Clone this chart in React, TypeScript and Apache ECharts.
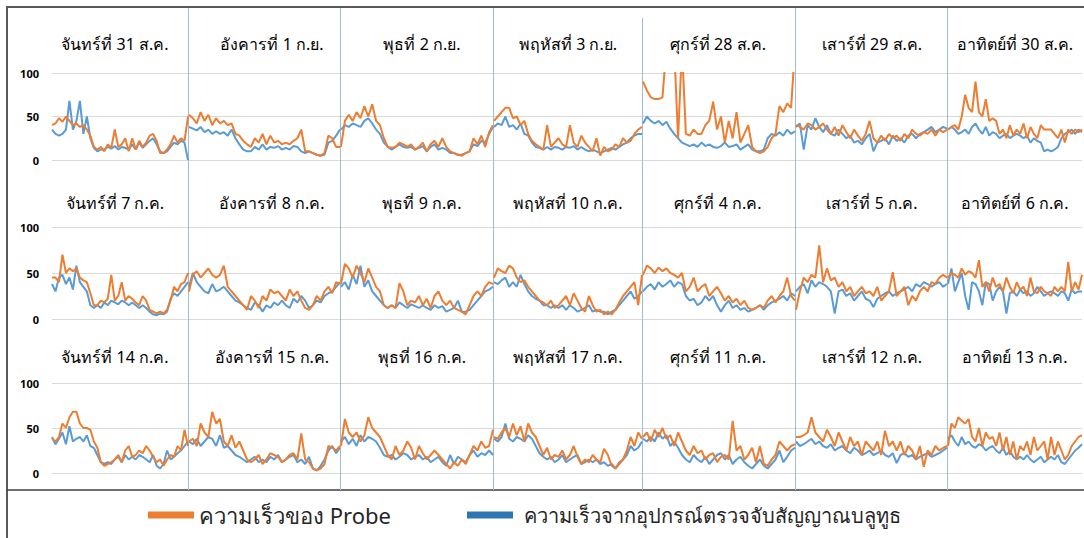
import React, { useEffect, useRef } from "react";
import * as echarts from "echarts";

const PROBE = "ความเร็วของ Probe";
const BT = "ความเร็วจากอุปกรณ์ตรวจจับสัญญาณบลูทูธ";

const titles = [
  "จันทร์ที่ 31 ส.ค.", "อังคารที่ 1 ก.ย.", "พุธที่ 2 ก.ย.", "พฤหัสที่ 3 ก.ย.", "ศุกร์ที่ 28 ส.ค.", "เสาร์ที่ 29 ส.ค.", "อาทิตย์ที่ 30 ส.ค.",
  "จันทร์ที่ 7 ก.ค.", "อังคารที่ 8 ก.ค.", "พุธที่ 9 ก.ค.", "พฤหัสที่ 10 ก.ค.", "ศุกร์ที่ 4 ก.ค.", "เสาร์ที่ 5 ก.ค.", "อาทิตย์ที่ 6 ก.ค.",
  "จันทร์ที่ 14 ก.ค.", "อังคารที่ 15 ก.ค.", "พุธที่ 16 ก.ค.", "พฤหัสที่ 17 ก.ค.", "ศุกร์ที่ 11 ก.ค.", "เสาร์ที่ 12 ก.ค.", "อาทิตย์ 13 ก.ค.",
];

const yTicks = [0, 50, 100];

// Row 1
const probeR1C1 = [40,42,48,44,50,45,40,42,38,40, 35,28,15,12,15,10,18,14,35,15, 18,25,10,25,12,22,15,20,28,30, 22,8,8,12,18,28,20,25,22,50];
const btR1C1 = [35,30,28,30,35,68,35,45,68,30, 50,25,14,10,12,12,15,13,16,12, 15,14,12,18,12,20,14,18,22,25, 18,10,8,10,15,20,18,22,20,0];
const probeR1C2 = [52,48,42,55,45,52,40,48,42,45, 40,42,30,28,22,18,15,25,20,30, 18,28,20,22,18,20,18,22,25,35, 10,10,8,6,5,8,28,25,15,15];
const btR1C2 = [38,36,34,38,32,35,30,33,30,32, 28,35,25,18,12,10,10,15,12,18, 12,15,14,16,12,14,12,16,15,10, 8,10,8,6,5,6,20,22,28,35];
const probeR1C3 = [15,45,52,45,55,48,62,50,64,45, 40,25,15,14,15,20,18,15,18,12, 15,20,10,18,22,15,25,15,10,8, 6,5,8,10,25,18,28,15,32,40];
const btR1C3 = [35,40,38,42,40,38,45,48,42,35, 30,20,15,12,15,18,15,14,15,12, 14,16,10,15,18,12,14,12,8,8, 6,6,8,10,18,16,22,20,30,38];
const probeR1C4 = [45,50,55,60,60,48,50,40,45,30, 22,18,15,12,40,15,20,25,18,15, 40,20,15,28,20,15,10,25,5,15, 10,12,18,15,25,20,22,30,35,38];
const btR1C4 = [38,42,40,50,38,40,35,42,30,28, 20,15,14,12,15,12,15,14,12,15, 14,16,12,15,12,10,12,10,8,10, 12,14,12,15,18,20,25,28,30,30];
const probeR1C5 = [90,80,72,70,70,72,130,130,130,25, 130,30,28,35,30,30,40,45,67,35, 50,20,45,25,55,20,30,40,15,10, 8,10,15,25,30,62,55,65,60,130];
const btR1C5 = [42,50,45,42,45,40,44,36,30,25, 20,18,16,18,15,20,16,18,15,14, 16,20,15,16,18,12,15,18,12,10, 10,12,25,30,28,32,28,35,30,33];
const probeR1C6 = [40,38,35,42,40,35,38,42,35,30, 38,28,40,32,25,35,28,22,30,45, 25,20,28,22,30,25,28,22,30,25, 35,30,28,32,30,35,28,35,32,35];
const btR1C6 = [38,42,12,40,35,48,38,32,40,30, 28,35,30,25,28,20,22,18,25,30, 10,20,22,25,18,28,22,25,20,28, 30,25,30,32,35,38,32,35,38,36];
const probeR1C7 = [35,38,40,35,50,75,60,55,90,55, 50,70,45,48,45,30,35,25,40,28, 35,30,42,25,38,30,25,40,35,35, 35,30,25,35,20,35,30,35,32,35];
const btR1C7 = [35,38,35,30,32,35,30,38,42,35, 30,38,28,32,30,25,28,30,25,28, 30,28,25,28,20,25,22,20,10,12, 10,12,15,25,30,32,35,30,35,32];

// Row 2
const probeR2C1 = [45,45,40,70,50,55,52,55,45,42, 40,28,15,15,20,18,22,48,20,25, 40,20,25,22,18,15,25,20,10,8, 6,8,6,10,20,35,30,38,40,50];
const btR2C1 = [38,30,45,48,38,45,32,58,40,35, 30,15,12,15,12,18,15,20,18,16, 20,18,15,18,15,12,15,12,8,5, 4,6,5,8,22,28,25,30,35,40];
const probeR2C2 = [30,48,52,45,50,55,48,45,48,58, 35,30,25,20,15,10,25,20,12,25, 20,32,28,30,25,20,32,25,30,20, 12,10,15,25,20,30,35,28,40,38];
const btR2C2 = [35,50,40,35,30,28,38,30,32,35, 30,25,20,18,15,12,10,18,15,8, 15,12,18,15,20,15,12,22,18,25, 20,12,15,20,18,25,28,30,35,40];
const probeR2C3 = [38,60,55,45,58,50,40,55,45,35, 30,15,12,15,12,39,30,15,20,18, 25,15,22,12,25,30,20,15,20,12, 10,8,5,15,25,30,25,35,40,38];
const btR2C3 = [35,40,32,48,38,58,35,42,30,25, 20,15,12,15,12,18,15,12,16,14, 12,15,12,10,15,12,14,8,10,12, 20,8,8,10,15,20,25,30,32,35];
const probeR2C4 = [45,55,52,50,58,55,45,40,42,35, 30,25,20,18,15,20,12,15,20,25, 15,28,20,12,8,25,15,8,10,5, 8,5,10,18,25,30,35,40,15,48];
const btR2C4 = [40,38,42,45,35,40,35,48,38,30, 25,22,20,15,15,12,15,12,15,10, 15,12,8,10,12,15,8,10,8,8, 5,8,10,15,20,25,30,22,25,30];
const probeR2C5 = [48,58,55,50,56,52,55,50,48,45, 50,30,35,45,30,35,38,25,30,35, 28,20,25,18,22,15,20,12,10,12, 15,12,20,25,18,25,30,45,25,20];
const btR2C5 = [30,35,38,32,40,35,38,42,35,40, 38,25,20,22,15,18,25,20,25,15, 8,15,20,12,15,10,12,8,10,12, 15,10,15,18,20,22,25,20,28,25];
const probeR2C6 = [10,30,45,40,48,45,80,40,55,42, 45,35,40,30,35,25,30,35,28,30, 25,35,20,25,30,51,25,30,35,15, 25,20,30,35,30,40,38,45,48,45];
const btR2C6 = [30,35,38,28,42,35,40,38,35,30, 6,30,32,25,28,20,25,30,22,20, 13,22,25,28,30,25,28,30,32,35, 30,38,35,40,38,35,38,40,35,38];
const probeR2C7 = [45,50,48,45,55,48,52,50,45,64, 35,40,30,45,35,38,30,45,35,28, 40,32,35,25,45,30,28,35,30,28, 25,35,30,35,30,62,30,40,32,48];
const btR2C7 = [38,55,30,40,50,25,10,40,38,30, 15,40,38,20,30,35,30,6,28,30, 25,32,28,30,25,28,35,30,25,28, 30,28,25,30,28,20,32,28,30,30];

// Row 3
const probeR3C1 = [38,35,40,55,50,62,68,68,55,50, 50,48,35,28,12,8,10,12,15,20, 12,25,30,18,20,25,22,30,25,18, 12,15,8,15,20,18,30,25,48,30];
const btR3C1 = [40,32,38,45,32,52,35,38,40,35, 42,30,28,20,12,10,12,10,15,18, 12,20,15,18,15,20,18,15,12,20, 8,5,10,25,15,18,22,25,30,35];
const probeR3C2 = [35,38,30,55,45,40,68,55,60,35, 30,42,28,35,25,15,12,15,20,10, 15,22,20,18,12,15,20,22,15,44, 15,12,5,3,5,10,30,28,25,30];
const btR3C2 = [35,32,38,30,35,40,38,30,42,28, 30,25,20,18,15,12,15,18,12,15, 12,18,15,20,12,15,18,20,12,15, 10,18,5,3,8,15,25,30,22,28];
const probeR3C3 = [30,60,45,40,45,35,42,62,50,45, 40,30,20,15,30,20,25,35,28,15, 30,22,15,20,25,20,15,10,5,12, 8,15,10,20,30,25,35,28,30,48];
const btR3C3 = [35,40,32,38,30,42,35,40,38,35, 28,20,18,20,15,18,22,20,15,18, 20,15,18,12,15,18,12,8,20,10, 18,15,12,20,25,18,22,20,25,20];
const probeR3C4 = [40,38,45,50,40,55,42,52,35,55, 45,40,30,20,28,15,20,18,25,15, 20,30,18,10,15,12,20,15,12,27, 20,8,5,10,15,25,40,30,45,38];
const btR3C4 = [38,35,40,55,38,35,40,38,35,42, 38,30,22,18,15,18,12,15,20,12, 15,18,20,10,12,15,12,15,10,12, 8,10,5,12,15,20,30,25,28,35];
const probeR3C5 = [40,45,35,48,40,50,38,42,30,45, 35,25,20,30,22,25,15,20,22,12, 18,20,15,58,25,30,15,20,28,12, 30,10,8,15,20,35,30,25,30,32];
const btR3C5 = [38,35,40,35,45,38,42,30,35,28, 20,15,12,20,15,12,18,10,15,20, 22,15,20,10,15,18,12,8,5,10, 15,8,5,10,15,25,12,18,25,28];
const probeR3C6 = [40,40,42,45,62,45,40,35,48,40, 30,45,35,25,40,30,35,20,35,30, 25,35,20,47,30,35,25,35,20,30, 25,15,30,7,25,20,30,25,28,30];
const btR3C6 = [35,30,32,35,38,32,35,30,28,32, 25,28,30,25,22,28,25,20,22,25, 20,22,25,20,18,22,11,20,22,18, 20,15,18,20,22,18,20,22,25,28];
const probeR3C7 = [30,55,50,62,58,55,60,40,35,50, 30,45,38,40,30,45,25,40,20,35, 15,30,25,35,20,40,25,30,35,15, 40,20,35,25,15,20,30,35,40,42];
const btR3C7 = [38,42,35,30,40,32,35,30,28,32, 30,25,28,30,25,22,28,20,25,18, 15,18,15,20,15,12,15,18,12,15, 18,15,20,12,10,15,20,25,28,32];

const probeSeries = [
  probeR1C1, probeR1C2, probeR1C3, probeR1C4, probeR1C5, probeR1C6, probeR1C7,
  probeR2C1, probeR2C2, probeR2C3, probeR2C4, probeR2C5, probeR2C6, probeR2C7,
  probeR3C1, probeR3C2, probeR3C3, probeR3C4, probeR3C5, probeR3C6, probeR3C7,
];
const btSeries = [
  btR1C1, btR1C2, btR1C3, btR1C4, btR1C5, btR1C6, btR1C7,
  btR2C1, btR2C2, btR2C3, btR2C4, btR2C5, btR2C6, btR2C7,
  btR3C1, btR3C2, btR3C3, btR3C4, btR3C5, btR3C6, btR3C7,
];

// time-of-day slots (36-minute steps)
const slots = probeR1C1.map((_, i) => {
  const m = i * 36;
  return String(Math.floor(m / 60)).padStart(2, "0") + ":" + String(m % 60).padStart(2, "0");
});

const COLS = [[52, 188], [189, 340], [341, 493], [494, 642], [643, 795], [796, 947], [948, 1082]];
const ROWS = [[73, 160], [227, 319], [383, 473]];
const TITLE_X = [115, 272, 422, 568, 718, 872, 1015];
const TITLE_Y = [44, 203, 357];
const SEP_X = [188.5, 340.5, 493.5, 642.5, 795.5, 947.5];

const ORANGE = "#ED7D31";
const BLUE = "#5B9BD5";
const FONT = "Tahoma, 'Noto Sans', 'DejaVu Sans', sans-serif";

export default function App() {
  const ref = useRef<HTMLDivElement>(null);
  useEffect(() => {
    if (!ref.current) return;
    const chart = echarts.init(ref.current, null, { renderer: "svg" });
    const grids: any[] = [];
    const xAxes: any[] = [];
    const yAxes: any[] = [];
    const series: any[] = [];
    const graphics: any[] = [];
    for (let i = 0; i < 21; i++) {
      const r = Math.floor(i / 7);
      const c = i % 7;
      grids.push({
        left: COLS[c][0],
        width: COLS[c][1] - COLS[c][0],
        top: ROWS[r][0],
        height: ROWS[r][1] - ROWS[r][0],
        containLabel: false,
      });
      xAxes.push({ type: "category", gridIndex: i, data: slots, boundaryGap: false, show: false });
      yAxes.push({
        type: "value",
        gridIndex: i,
        min: yTicks[0],
        max: yTicks[yTicks.length - 1],
        interval: 50,
        axisLine: { show: false },
        axisTick: { show: false },
        axisLabel: {
          show: c === 0,
          fontSize: 11,
          fontWeight: "bold",
          color: "#000",
          margin: 13,
          fontFamily: FONT,
        },
        splitLine: { show: true, lineStyle: { color: "#d9d9d9", width: 1 } },
      });
      series.push({
        name: BT,
        type: "line",
        xAxisIndex: i,
        yAxisIndex: i,
        data: btSeries[i],
        symbol: "none",
        clip: true,
        lineStyle: { color: BLUE, width: 2 },
        itemStyle: { color: BLUE },
        z: 2,
      });
      series.push({
        name: PROBE,
        type: "line",
        xAxisIndex: i,
        yAxisIndex: i,
        data: probeSeries[i],
        symbol: "none",
        clip: true,
        lineStyle: { color: ORANGE, width: 2 },
        itemStyle: { color: ORANGE },
        z: 3,
      });
      graphics.push({
        type: "text",
        x: TITLE_X[c],
        y: TITLE_Y[r],
        style: {
          text: titles[i],
          fill: "#000",
          font: `16px ${FONT}`,
          align: "center",
          verticalAlign: "middle",
        },
      });
    }
    SEP_X.forEach((x, k) => {
      graphics.push({
        type: "line",
        shape: { x1: x, y1: k === 3 ? 18 : 8, x2: x, y2: 490 },
        style: { stroke: "#9dbcdb", lineWidth: 1 },
        z: 1,
      });
    });
    graphics.push({
      type: "polyline",
      shape: { points: [[7, 538], [7, 7], [1084, 7]] },
      style: { stroke: "#595959", lineWidth: 2, fill: null },
    });
    graphics.push({
      type: "line",
      shape: { x1: 7, y1: 490, x2: 1084, y2: 490 },
      style: { stroke: "#404040", lineWidth: 1.5 },
    });

    chart.setOption({
      animation: false,
      backgroundColor: "#fff",
      grid: grids,
      xAxis: xAxes,
      yAxis: yAxes,
      series,
      legend: [
        {
          data: [{ name: PROBE, itemStyle: { color: ORANGE } }],
          left: 143,
          top: 499,
          icon: "rect",
          itemWidth: 46,
          itemHeight: 7,
          selectedMode: false,
          textStyle: { fontSize: 22, color: "#262626", fontFamily: FONT },
        },
        {
          data: [{ name: BT, itemStyle: { color: "#2E75B6" } }],
          left: 462,
          top: 500,
          icon: "rect",
          itemWidth: 46,
          itemHeight: 7,
          selectedMode: false,
          textStyle: { fontSize: 20, color: "#262626", fontFamily: FONT, padding: [0, 0, 0, 6] },
        },
      ],
      graphic: graphics,
    });
    return () => chart.dispose();
  }, []);
  return (
    <div
      ref={ref}
      style={{ position: "absolute", left: 0, top: 0, width: 1084, height: 538, background: "#fff" }}
    />
  );
}
